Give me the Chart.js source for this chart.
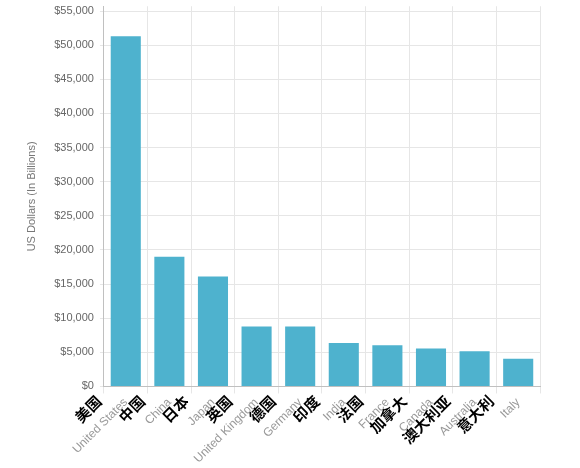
<!DOCTYPE html>
<html>
<head>
<meta charset="utf-8">
<script src="https://cdn.jsdelivr.net/npm/chart.js@4"></script>
<style>
  html, body { margin: 0; padding: 0; background: #fff; }
  #wrap { width: 580px; height: 468px; position: relative; }
</style>
</head>
<body>
<div id="wrap"><canvas id="c"></canvas></div>
<script>
const categoriesZh = ['美国', '中国', '日本', '英国', '德国', '印度', '法国', '加拿大', '澳大利亚', '意大利'];
const categoriesEn = ['United States', 'China', 'Japan', 'United Kingdom', 'Germany', 'India', 'France', 'Canada', 'Australia', 'Italy'];
const gdpValues = [51300, 19000, 16100, 8800, 8800, 6350, 6050, 5550, 5150, 4050];
const yTickValues = [0, 5000, 10000, 15000, 20000, 25000, 30000, 35000, 40000, 45000, 50000, 55000];
const yAxisTitle = 'US Dollars (In Billions)';

const zhLabelPlugin = {
  id: 'zhLabels',
  afterDraw(chart) {
    const xs = chart.scales.x;
    const ctx = chart.ctx;
    ctx.save();
    ctx.font = 'bold 15px "Noto Sans CJK SC", sans-serif';
    ctx.fillStyle = '#000';
    ctx.textAlign = 'right';
    ctx.textBaseline = 'middle';
    categoriesZh.forEach((lab, i) => {
      const x = xs.getPixelForValue(i);
      ctx.save();
      ctx.translate(x - 27, xs.top + 12);
      ctx.rotate(-Math.PI / 4);
      ctx.fillText(lab, 0, 0);
      ctx.restore();
    });
    ctx.restore();
  }
};

new Chart(document.getElementById('c'), {
  type: 'bar',
  data: {
    labels: categoriesEn,
    datasets: [{
      data: gdpValues,
      backgroundColor: '#4eb2ce',
      borderWidth: 0,
      categoryPercentage: 1,
      barPercentage: 0.69
    }]
  },
  options: {
    responsive: true,
    maintainAspectRatio: false,
    animation: false,
    layout: { padding: { left: 25, right: 40, top: -4, bottom: 0 } },
    plugins: { legend: { display: false }, tooltip: { enabled: false } },
    scales: {
      x: {
        offset: true,
        grid: { offset: true, color: '#e6e6e6', tickLength: 7 },
        border: { color: '#c0c0c0' },
        ticks: {
          color: '#999',
          font: { family: '"Liberation Sans", Arial, sans-serif', size: 12 },
          minRotation: 45, maxRotation: 45, padding: 2
        }
      },
      y: {
        min: 0,
        max: 55700,
        afterBuildTicks: (axis) => { axis.ticks = yTickValues.map(v => ({ value: v })); },
        grid: { color: '#e6e6e6', tickLength: 4 },
        border: { color: '#c0c0c0' },
        ticks: {
          color: '#666',
          font: { family: '"Liberation Sans", Arial, sans-serif', size: 11, lineHeight: 0.05 },
          padding: 6,
          callback: (v) => '$' + Number(v).toLocaleString('en-US')
        },
        title: {
          display: true,
          text: yAxisTitle,
          color: '#777',
          font: { family: '"Liberation Sans", Arial, sans-serif', size: 11 },
          padding: { top: 0, bottom: 10 }
        }
      }
    }
  },
  plugins: [zhLabelPlugin]
});
</script>
</body>
</html>
